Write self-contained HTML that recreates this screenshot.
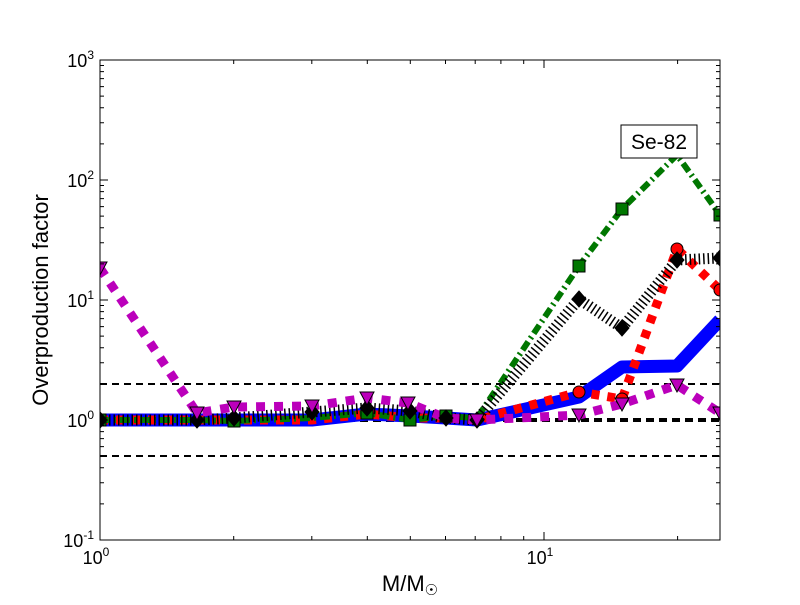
<!DOCTYPE html>
<html><head><style>body{margin:0;background:#fff}</style></head><body>
<svg width="800" height="600" xmlns="http://www.w3.org/2000/svg" font-family="Liberation Sans, sans-serif">
<rect width="800" height="600" fill="#fff"/>
<defs><clipPath id="c"><rect x="100" y="60" width="620" height="480"/></clipPath></defs>
<g clip-path="url(#c)" fill="none">
<line x1="100" y1="384" x2="720" y2="384" stroke="#000" stroke-width="2" stroke-dasharray="7,5"/>
<line x1="100" y1="456" x2="720" y2="456" stroke="#000" stroke-width="2" stroke-dasharray="7,5"/>
<line x1="100" y1="420" x2="720" y2="420" stroke="#000" stroke-width="4" stroke-dasharray="8,5"/>
<polyline stroke="#0000ff" stroke-width="13" stroke-linejoin="round" points="100,420 197,420 234,420 312,420 367,414 410,416 446,418 477,420 579,397 622,367 677,366 720,320"/>
<polyline stroke="#ff0000" stroke-width="9" stroke-dasharray="8,8" points="100,420 197,420 234,420 312,420 367,414 410,418 446,418 477,420 579,392 622,399 677,249 720,290"/>
<polyline stroke="#007700" stroke-width="6" stroke-dasharray="10,4,2,4" points="100,420 197,420 234,421 312,418 367,413 410,420 446,416 477,418 579,266 622,209 677,155 720,215"/>
<polyline stroke="#000" stroke-width="11" stroke-dasharray="1.5,3" points="100,420 197,420 234,418 312,412 367,408 410,411 446,418 477,420 579,299 622,328 677,260 720,258"/>
<polyline stroke="#bb00bb" stroke-width="9" stroke-dasharray="9,9" points="100,268 197,413 234,407 312,406 367,398 408,403 446,418 477,420 579,415 622,404 677,385 720,413"/>
<g stroke="#000" stroke-width="1">
<g fill="#007700"><rect x="94" y="414" width="12" height="12"/><rect x="228" y="415" width="12" height="12"/><rect x="361" y="407" width="12" height="12"/><rect x="404" y="414" width="12" height="12"/><rect x="440" y="410" width="12" height="12"/><rect x="573" y="260" width="12" height="12"/><rect x="616" y="203" width="12" height="12"/><rect x="714" y="209" width="12" height="12"/></g>
<g fill="#ff0000"><circle cx="677" cy="249" r="6"/><circle cx="720" cy="290" r="6"/><circle cx="579" cy="392" r="6"/><circle cx="622" cy="399" r="6"/></g>
<g fill="#000"><path d="M100,412 l7,8 l-7,8 l-7,-8z"/><path d="M197,412 l7,8 l-7,8 l-7,-8z"/><path d="M234,410 l7,8 l-7,8 l-7,-8z"/><path d="M312,404 l7,8 l-7,8 l-7,-8z"/><path d="M367,400 l7,8 l-7,8 l-7,-8z"/><path d="M410,403 l7,8 l-7,8 l-7,-8z"/><path d="M446,410 l7,8 l-7,8 l-7,-8z"/><path d="M477,412 l7,8 l-7,8 l-7,-8z"/><path d="M579,291 l7,8 l-7,8 l-7,-8z"/><path d="M622,320 l7,8 l-7,8 l-7,-8z"/><path d="M677,252 l7,8 l-7,8 l-7,-8z"/><path d="M720,250 l7,8 l-7,8 l-7,-8z"/></g>
<g fill="#bb00bb"><path d="M93,262 h14 l-7,13z"/><path d="M190,407 h14 l-7,13z"/><path d="M227,401 h14 l-7,13z"/><path d="M305,400 h14 l-7,13z"/><path d="M360,392 h14 l-7,13z"/><path d="M401,397 h14 l-7,13z"/><path d="M470,414 h14 l-7,13z"/><path d="M572,409 h14 l-7,13z"/><path d="M615,398 h14 l-7,13z"/><path d="M670,379 h14 l-7,13z"/><path d="M713,407 h14 l-7,13z"/></g>
</g>
</g>
<rect x="100" y="60" width="620" height="480" fill="none" stroke="#000" stroke-width="1"/>
<g stroke="#000" stroke-width="1">
<path d="M100,60v8M100,540v-8M544,60v8M544,540v-8M720,540v-8"/>
<path d="M100,60h8M100,180h8M100,300h8M100,420h8M100,540h8M720,60h-8M720,180h-8M720,300h-8M720,420h-8M720,540h-8"/>
<path d="M233.7,540v-4M311.8,540v-4M367.3,540v-4M410.3,540v-4M445.5,540v-4M475.2,540v-4M500.9,540v-4M523.7,540v-4M677.6,540v-4M233.7,60v4M311.8,60v4M367.3,60v4M410.3,60v4M445.5,60v4M475.2,60v4M500.9,60v4M523.7,60v4M677.6,60v4"/>
<path id="m" d="M100,143.9h4M100,122.7h4M100,107.7h4M100,96.1h4M100,86.6h4M100,78.6h4M100,71.6h4M100,65.5h4M716,143.9h4M716,122.7h4M716,107.7h4M716,96.1h4M716,86.6h4M716,78.6h4M716,71.6h4M716,65.5h4"/>
<use href="#m" y="120"/><use href="#m" y="240"/><use href="#m" y="360"/>
</g>
<g font-size="18" text-anchor="end">
<text x="94" y="67">10<tspan font-size="12" dy="-8">3</tspan></text>
<text x="94" y="187">10<tspan font-size="12" dy="-8">2</tspan></text>
<text x="94" y="307">10<tspan font-size="12" dy="-8">1</tspan></text>
<text x="94" y="427">10<tspan font-size="12" dy="-8">0</tspan></text>
<text x="94" y="547">10<tspan font-size="12" dy="-8">-1</tspan></text>
</g>
<g font-size="18" text-anchor="middle">
<text x="96" y="564">10<tspan font-size="12" dy="-8">0</tspan></text>
<text x="540" y="564">10<tspan font-size="12" dy="-8">1</tspan></text>
</g>
<text x="410" y="591" font-size="22" text-anchor="middle">M/M<tspan font-size="15" dy="4">☉</tspan></text>
<text transform="translate(48,300) rotate(-90)" font-size="22" text-anchor="middle">Overproduction factor</text>
<rect x="621" y="125" width="76" height="33" fill="#fff" stroke="#000" stroke-width="1"/>
<text x="659" y="149" font-size="21" text-anchor="middle">Se-82</text>
</svg>
</body></html>
